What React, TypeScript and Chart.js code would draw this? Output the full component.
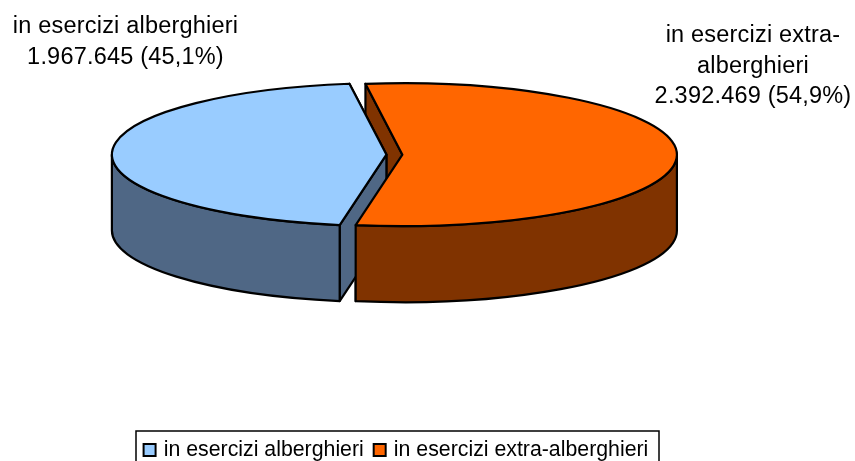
import { useEffect, useRef } from "react";
import { Chart, registerables } from "chart.js";

Chart.register(...registerables);

const categories = ["in esercizi alberghieri", "in esercizi extra-alberghieri"];
const values = [1967645, 2392469];
const topColors = ["#99CCFF", "#FF6600"];
const sideColors = ["#4F6785", "#803300"];
const explode = [8, 8];
const calloutLines = [
  ["in esercizi alberghieri", "1.967.645 (45,1%)"],
  ["in esercizi extra-", "alberghieri", "2.392.469 (54,9%)"],
];
const calloutX = [125.5, 753];
const calloutBaseline = [33, 42];

const FONT = '"Liberation Sans", Arial, sans-serif';
const SQUASH = 71.5 / 274.5;
const DEPTH = 76;
const LINE_W = 2.2;

function geom(el: any, i: number) {
  const half = (el.startAngle + el.endAngle) / 2;
  return {
    cx: el.x + Math.cos(half) * explode[i],
    cy: el.y + Math.sin(half) * explode[i] * SQUASH,
    R: el.outerRadius,
    s: el.startAngle,
    e: el.endAngle,
  };
}

const depthPlugin = {
  id: "depth",
  afterLayout(chart: any) {
    const lg = chart.legend;
    const dx = 397.2 - (lg.left + lg.right) / 2;
    const dy = 427 - lg.top;
    lg.left += dx;
    lg.right += dx;
    lg.top += dy;
    lg.bottom += dy;
  },
  beforeDatasetsDraw(chart: any) {
    const { ctx } = chart;
    const arcs = chart.getDatasetMeta(0).data;
    ctx.save();
    ctx.lineWidth = LINE_W;
    ctx.strokeStyle = "#000";
    ctx.lineJoin = "round";
    // flat cut faces, back slice first
    for (let i = arcs.length - 1; i >= 0; i--) {
      const g = geom(arcs[i], i);
      ctx.fillStyle = sideColors[i];
      for (const a of [g.e, g.s]) {
        const px = g.cx + g.R * Math.cos(a);
        const py = g.cy + g.R * SQUASH * Math.sin(a);
        ctx.beginPath();
        ctx.moveTo(g.cx, g.cy);
        ctx.lineTo(px, py);
        ctx.lineTo(px, py + DEPTH);
        ctx.lineTo(g.cx, g.cy + DEPTH);
        ctx.closePath();
        ctx.fill();
        ctx.stroke();
      }
    }
    // curved outer walls: the part of each rim on the front half
    arcs.forEach((el: any, i: number) => {
      const g = geom(el, i);
      ctx.fillStyle = sideColors[i];
      for (let n = -1; n <= 2; n++) {
        const lo = Math.max(g.s, n * 2 * Math.PI);
        const hi = Math.min(g.e, n * 2 * Math.PI + Math.PI);
        if (hi <= lo) continue;
        ctx.beginPath();
        ctx.ellipse(g.cx, g.cy, g.R, g.R * SQUASH, 0, lo, hi);
        ctx.ellipse(g.cx, g.cy + DEPTH, g.R, g.R * SQUASH, 0, hi, lo, true);
        ctx.closePath();
        ctx.fill();
        ctx.stroke();
      }
    });
    // top faces: the library's own arc elements, tilted and pulled apart
    arcs.forEach((el: any, i: number) => {
      const g = geom(el, i);
      ctx.save();
      ctx.translate(g.cx, g.cy);
      ctx.scale(1, SQUASH);
      ctx.translate(-el.x, -el.y);
      el.draw(ctx);
      ctx.restore();
    });
    arcs.forEach((el: any, i: number) => {
      const g = geom(el, i);
      ctx.beginPath();
      ctx.moveTo(g.cx, g.cy);
      ctx.ellipse(g.cx, g.cy, g.R, g.R * SQUASH, 0, g.s, g.e);
      ctx.closePath();
      ctx.stroke();
    });
    ctx.restore();
    return false;
  },
  afterDraw(chart: any) {
    const { ctx } = chart;
    ctx.save();
    ctx.strokeStyle = "#000";
    ctx.lineWidth = 1.5;
    ctx.strokeRect(136, 431, 523, 40);
    ctx.fillStyle = "#000";
    ctx.font = `23.5px ${FONT}`;
    (ctx as any).letterSpacing = "0.2px";
    ctx.textAlign = "center";
    ctx.textBaseline = "alphabetic";
    calloutLines.forEach((lines, i) => {
      lines.forEach((t, j) => ctx.fillText(t, calloutX[i], calloutBaseline[i] + j * 30.5));
    });
    ctx.restore();
  },
};

export default function App() {
  const ref = useRef<HTMLCanvasElement | null>(null);
  useEffect(() => {
    const chart = new Chart(ref.current as HTMLCanvasElement, {
      type: "pie",
      data: {
        labels: categories,
        datasets: [
          {
            data: values,
            backgroundColor: topColors,
            borderWidth: 0,
            clip: false,
          } as any,
        ],
      },
      options: {
        responsive: false,
        animation: false,
        rotation: 189.8,
        radius: 274.5,
        layout: { padding: { left: 0, right: 66.2, top: 0, bottom: 108 } },
        plugins: {
          tooltip: { enabled: false },
          legend: {
            position: "bottom",
            labels: {
              color: "#000",
              font: { family: FONT, size: 21.3 },
              usePointStyle: true,
              boxWidth: 7,
              boxHeight: 12,
              padding: 12.4,
              generateLabels(chart: any) {
                return Chart.overrides.pie.plugins.legend.labels
                  .generateLabels(chart)
                  .map((it: any) => ({ ...it, strokeStyle: "#000", lineWidth: 2, pointStyle: "rect" }));
              },
            },
          },
        },
      },
      plugins: [depthPlugin],
    } as any);
    return () => chart.destroy();
  }, []);
  return (
    <div style={{ position: "fixed", left: 0, top: 0 }}>
      <canvas ref={ref} width={855} height={461} style={{ display: "block" }} />
    </div>
  );
}
